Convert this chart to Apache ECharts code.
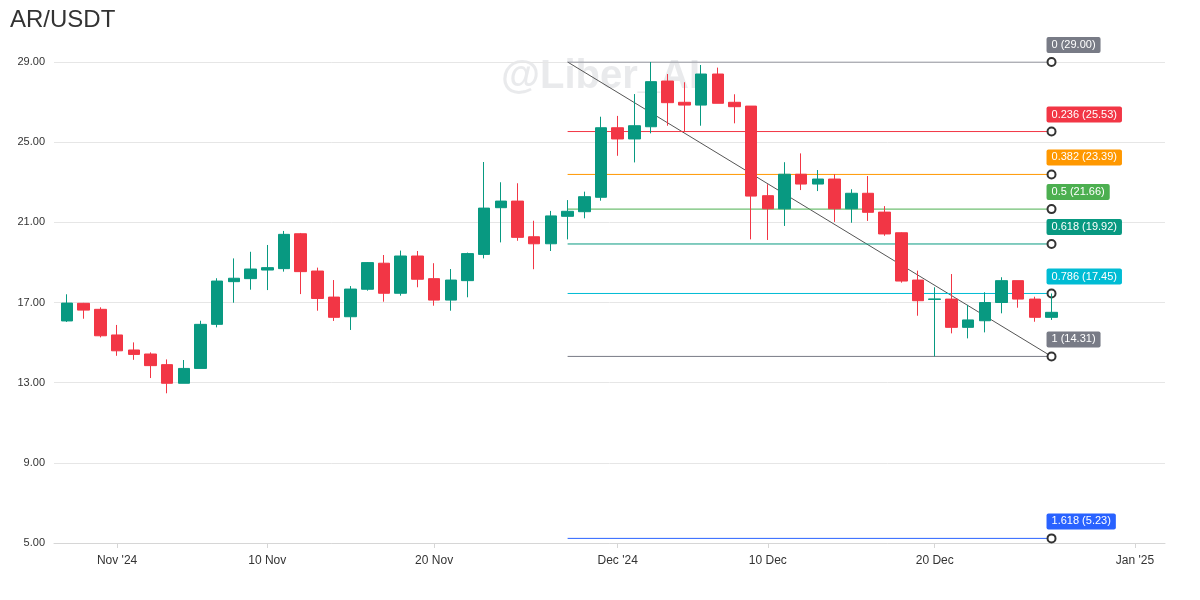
<!DOCTYPE html>
<html>
<head>
<meta charset="utf-8">
<script src="https://cdn.jsdelivr.net/npm/echarts@6/dist/echarts.min.js"></script>
<style>
html,body{margin:0;padding:0;background:#fff;}
#chart{width:1200px;height:600px;}
</style>
</head>
<body>
<div id="chart"></div>
<script>
// ---- data ----
const dates = [
 '2024-10-29','2024-10-30','2024-10-31','2024-11-01','2024-11-02','2024-11-03','2024-11-04','2024-11-05','2024-11-06','2024-11-07',
 '2024-11-08','2024-11-09','2024-11-10','2024-11-11','2024-11-12','2024-11-13','2024-11-14','2024-11-15','2024-11-16','2024-11-17',
 '2024-11-18','2024-11-19','2024-11-20','2024-11-21','2024-11-22','2024-11-23','2024-11-24','2024-11-25','2024-11-26','2024-11-27',
 '2024-11-28','2024-11-29','2024-11-30','2024-12-01','2024-12-02','2024-12-03','2024-12-04','2024-12-05','2024-12-06','2024-12-07',
 '2024-12-08','2024-12-09','2024-12-10','2024-12-11','2024-12-12','2024-12-13','2024-12-14','2024-12-15','2024-12-16','2024-12-17',
 '2024-12-18','2024-12-19','2024-12-20','2024-12-21','2024-12-22','2024-12-23','2024-12-24','2024-12-25','2024-12-26','2024-12-27'
];
const opens  = [16.08,16.96,16.66,15.38,14.63,14.43,13.90,12.97,13.71,15.91,
                18.04,18.19,18.62,18.69,20.43,18.57,17.27,16.29,17.66,18.96,
                17.46,19.32,18.19,17.12,18.09,19.40,21.73,22.06,20.28,19.93,
                21.30,21.53,22.25,25.72,25.16,25.77,28.05,26.99,26.85,28.40,
                26.99,26.80,22.33,21.68,23.40,22.91,23.16,21.68,22.45,21.51,
                20.48,18.12,17.15,17.17,15.76,16.09,17.00,18.09,17.17,16.26];
const closes = [16.97,16.62,15.34,14.59,14.41,13.85,12.97,13.71,15.91,18.07,
                18.21,18.67,18.74,20.40,18.54,17.20,16.26,17.67,18.99,17.46,
                19.32,18.16,17.12,18.12,19.44,21.71,22.06,20.25,19.93,21.32,
                21.55,22.28,25.72,25.16,25.82,28.02,26.97,26.85,28.40,26.94,
                26.77,22.31,21.68,23.40,22.91,23.16,21.68,22.45,21.50,20.42,
                18.07,17.09,17.18,15.76,16.13,17.00,18.09,17.17,16.26,16.51];
const lows   = [16.03,16.19,15.26,14.34,14.14,13.23,12.47,12.97,13.71,15.76,
                16.99,17.64,17.62,18.54,17.42,16.59,16.08,15.63,17.59,17.04,
                17.34,17.76,16.84,16.59,17.26,19.20,20.00,20.08,18.66,19.57,
                20.15,21.20,22.08,24.32,23.99,25.44,25.82,25.52,25.82,26.94,
                25.94,20.15,20.12,20.82,22.61,22.56,21.02,20.98,21.07,20.33,
                17.99,16.34,14.31,15.46,15.21,15.51,16.46,16.74,16.04,16.13];
const highs  = [17.41,16.98,16.76,15.88,15.01,14.51,14.16,14.13,16.09,18.21,
                19.20,19.53,19.87,20.57,20.47,18.74,18.12,17.82,19.02,19.37,
                19.59,19.57,18.96,18.67,19.49,24.01,23.00,22.95,21.08,21.57,
                22.11,22.53,26.27,26.31,27.40,29.00,28.40,27.99,28.85,28.72,
                27.39,26.80,22.90,24.00,24.44,23.61,23.41,22.65,23.31,21.81,
                20.50,18.59,17.76,18.42,16.88,17.51,18.26,18.09,17.29,17.45];

const fibStart = '2024-11-28';
const fibEnd = '2024-12-27';
const fibRatios = ['0','0.236','0.382','0.5','0.618','0.786','1','1.618'];
const fibValues = [29.00,25.53,23.39,21.66,19.92,17.45,14.31,5.23];
const fibColors = ['#787b86','#f23645','#ff9800','#4caf50','#089981','#00bcd4','#787b86','#2962ff'];
const trendFrom = 29.00, trendTo = 14.31;

const tickDates = ['2024-11-01','2024-11-10','2024-11-20','2024-12-01','2024-12-10','2024-12-20','2025-01-01'];
const tickLabels = ["Nov '24",'10 Nov','20 Nov',"Dec '24",'10 Dec','20 Dec',"Jan '25"];
const yTicks = [5,9,13,17,21,25,29];

// ---- build ----
const ts = s => { const p = s.split('-').map(Number); return Date.UTC(p[0], p[1]-1, p[2]); };
const DAY = 86400000;
const candleData = dates.map((d,i) => [ts(d), opens[i], closes[i], lows[i], highs[i]]);
const tickTs = tickDates.map(ts);
const FONT = 'Liberation Sans, Arial, sans-serif';

const series = [{
  type: 'candlestick',
  z: 3,
  barWidth: 12,
  data: candleData,
  itemStyle: { color: '#089981', borderColor: '#089981', color0: '#f23645', borderColor0: '#f23645', borderWidth: 1 }
}];

series.push({
  type: 'line', z: 2, silent: true, symbol: 'none',
  lineStyle: { color: '#555', width: 1 },
  data: [[ts(fibStart), trendFrom], [ts(fibEnd), trendTo]]
});

fibValues.forEach((v, k) => {
  series.push({
    type: 'line', z: 2, silent: true,
    lineStyle: { color: fibColors[k], width: 1 },
    symbolSize: 8,
    itemStyle: { color: '#fff', borderColor: '#333', borderWidth: 2 },
    data: [
      { value: [ts(fibStart), v], symbol: 'none' },
      { value: [ts(fibEnd), v], symbol: 'circle',
        label: {
          show: true, position: 'top', distance: 4, align: 'left', offset: [-5, 0],
          formatter: fibRatios[k] + ' (' + v.toFixed(2) + ')',
          color: '#fff', backgroundColor: fibColors[k], fontSize: 11, lineHeight: 12,
          fontFamily: FONT, padding: [2, 5, 2, 5], borderRadius: 2
        }
      }
    ]
  });
});

const chart = echarts.init(document.getElementById('chart'), null, { renderer: 'canvas' });
chart.setOption({
  animation: false,
  backgroundColor: '#fff',
  textStyle: { fontFamily: FONT },
  title: { text: 'AR/USDT', left: 5, top: 3, textStyle: { fontSize: 24, fontWeight: 'normal', color: '#333', fontFamily: FONT } },
  graphic: [{
    type: 'text', left: 501, top: 57, z: -10, silent: true,
    style: { text: '@Liber_AI', fontSize: 40, fontWeight: 'bold', fill: 'rgba(120,123,134,0.16)', fontFamily: FONT }
  }],
  grid: { left: 54, right: 35, top: 62, bottom: 57 },
  xAxis: {
    type: 'value',
    min: ts('2024-11-01') - 3.78 * DAY,
    max: ts('2025-01-01') + 1.80 * DAY,
    axisLine: { show: true, lineStyle: { color: '#d6d6d6' } },
    axisTick: { show: true, length: 5, customValues: tickTs, lineStyle: { color: '#d6d6d6' } },
    axisLabel: {
      customValues: tickTs, margin: 12, fontSize: 12, color: '#333', fontFamily: FONT,
      formatter: val => { const i = tickTs.indexOf(val); return i >= 0 ? tickLabels[i] : ''; }
    },
    splitLine: { show: false }
  },
  yAxis: {
    type: 'value', min: yTicks[0], max: yTicks[yTicks.length - 1], interval: 4,
    axisLine: { show: false }, axisTick: { show: false },
    axisLabel: { fontSize: 11, color: '#333', margin: 9, fontFamily: FONT, formatter: v => v.toFixed(2) },
    splitLine: { lineStyle: { color: '#e6e6e6' } }
  },
  series
});
</script>
</body>
</html>
